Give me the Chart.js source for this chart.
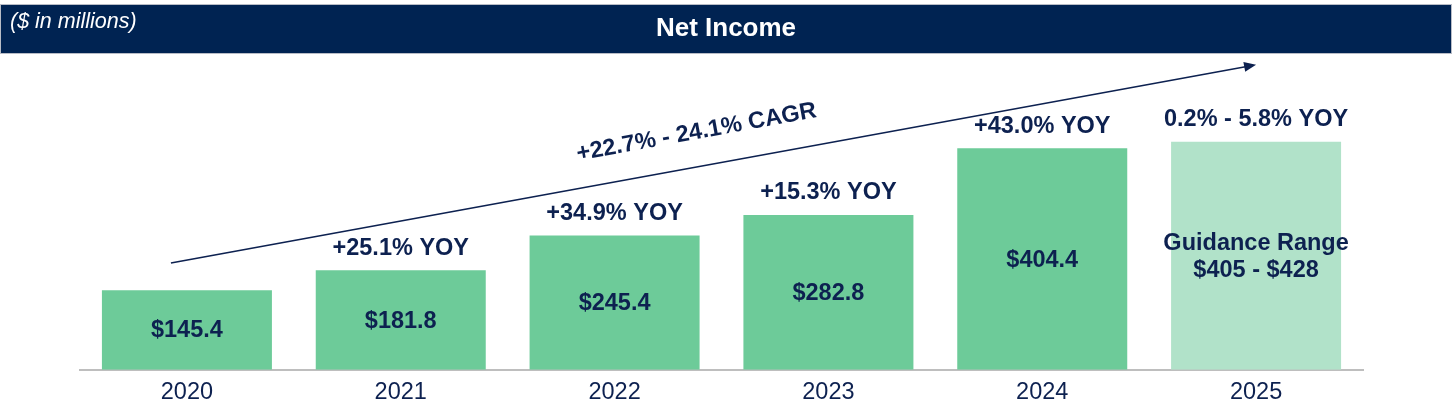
<!DOCTYPE html>
<html>
<head>
<meta charset="utf-8">
<script src="https://cdn.jsdelivr.net/npm/chart.js@4.4.1/dist/chart.umd.min.js"></script>
<style>
  html, body { margin: 0; padding: 0; background: #ffffff; overflow: hidden; }
  #wrap { position: relative; width: 1456px; height: 416px; }
</style>
</head>
<body>
<div id="wrap"><canvas id="c" width="1456" height="416"></canvas></div>
<script>
// ---- data ----
const years = ['2020', '2021', '2022', '2023', '2024', '2025'];
const netIncome = [145.4, 181.8, 245.4, 282.8, 404.4, 416.5];
const valueLabels = [['$145.4'], ['$181.8'], ['$245.4'], ['$282.8'], ['$404.4'], ['Guidance Range', '$405 - $428']];
const yoyLabels = ['', '+25.1% YOY', '+34.9% YOY', '+15.3% YOY', '+43.0% YOY', '0.2% - 5.8% YOY'];
const cagrLabel = '+22.7% - 24.1% CAGR';
const titleText = 'Net Income';
const unitNote = '($ in millions)';

// ---- styles ----
const FONT = '"Liberation Sans", Arial, Helvetica, sans-serif';
const NAVY = '#0D2150';
const HEADER = '#002352';
const barColors = years.map((y, i) => i < 5 ? '#6DCB99' : '#B1E2C9');

const annotPlugin = {
  id: 'annot',
  beforeDraw(chart) {
    const ctx = chart.ctx;
    ctx.save();
    ctx.fillStyle = '#ffffff';
    ctx.fillRect(0, 0, chart.width, chart.height);
    // header band
    ctx.fillStyle = HEADER;
    ctx.fillRect(1, 5, 1450, 48);
    ctx.strokeStyle = '#B8BCC6';
    ctx.lineWidth = 1;
    ctx.strokeRect(0.5, 4.5, 1451, 49);
    ctx.fillStyle = '#ffffff';
    ctx.textBaseline = 'middle';
    ctx.textAlign = 'center';
    ctx.font = 'bold 26px ' + FONT;
    ctx.fillText(titleText, 726, 29);
    ctx.textAlign = 'left';
    ctx.font = 'italic 21.5px ' + FONT;
    ctx.fillText(unitNote, 10, 22);
    ctx.restore();
  },
  afterDatasetsDraw(chart, args, opts) {
    const ctx = chart.ctx;
    const meta = chart.getDatasetMeta(0);
    const xs = chart.scales.x, ys = chart.scales.y;
    ctx.save();
    ctx.fillStyle = NAVY;
    ctx.textAlign = 'center';
    ctx.textBaseline = 'middle';
    meta.data.forEach((bar, i) => {
      const mid = (bar.y + bar.base) / 2;
      const lines = valueLabels[i];
      const lh = 27;
      const start = mid - (lines.length - 1) * lh / 2;
      ctx.font = (lines.length > 1 ? 'bold 23.5px ' : 'bold 23.5px ') + FONT;
      lines.forEach((t, k) => ctx.fillText(t, bar.x, start + k * lh + 1));
      if (yoyLabels[i]) {
        ctx.font = 'bold 23.5px ' + FONT;
        ctx.fillText(yoyLabels[i], bar.x, bar.y - 22);
      }
    });
    // CAGR arrow
    const a = opts.arrow;
    const x0 = xs.getPixelForValue(a.fromIndex) + a.fromOffset;
    const y0 = ys.getPixelForValue(a.fromValue);
    const x1 = xs.getPixelForValue(a.toIndex);
    const y1 = ys.getPixelForValue(a.toValue);
    const ang = Math.atan2(y1 - y0, x1 - x0);
    ctx.strokeStyle = NAVY;
    ctx.lineWidth = 1.6;
    ctx.beginPath();
    ctx.moveTo(x0, y0);
    ctx.lineTo(x1 - 8 * Math.cos(ang), y1 - 8 * Math.sin(ang));
    ctx.stroke();
    ctx.beginPath();
    ctx.moveTo(x1, y1);
    ctx.lineTo(x1 - 12 * Math.cos(ang) + 5 * Math.sin(ang), y1 - 12 * Math.sin(ang) - 5 * Math.cos(ang));
    ctx.lineTo(x1 - 12 * Math.cos(ang) - 5 * Math.sin(ang), y1 - 12 * Math.sin(ang) + 5 * Math.cos(ang));
    ctx.closePath();
    ctx.fill();
    // CAGR text
    const px = x0 + (x1 - x0) * a.textT;
    const py = y0 + (y1 - y0) * a.textT;
    const tx = px + a.textOffset * Math.sin(ang);
    const ty = py - a.textOffset * Math.cos(ang);
    ctx.translate(tx, ty);
    ctx.rotate(ang);
    ctx.font = 'bold 23.5px ' + FONT;
    ctx.fillText(cagrLabel, 0, 0);
    ctx.restore();
  }
};

new Chart(document.getElementById('c'), {
  type: 'bar',
  data: {
    labels: years,
    datasets: [{
      data: netIncome,
      backgroundColor: barColors,
      borderWidth: 0,
      categoryPercentage: 0.795,
      barPercentage: 1.0
    }]
  },
  options: {
    responsive: false,
    animation: false,
    devicePixelRatio: 1,
    layout: { padding: { left: 80, right: 93, top: 96, bottom: 0 } },
    plugins: {
      legend: { display: false },
      tooltip: { enabled: false },
      annot: {
        arrow: { fromIndex: 0, fromOffset: -16, fromValue: 195, toIndex: 5, toValue: 557, textT: 0.49, textOffset: 34 }
      }
    },
    scales: {
      x: {
        grid: { display: false, drawTicks: false },
        border: { display: true, color: '#BEBEBE', width: 2 },
        ticks: { color: NAVY, padding: 9, font: { family: FONT, size: 23.5 } }
      },
      y: { display: false, min: 0, max: 500 }
    }
  },
  plugins: [annotPlugin]
});
</script>
</body>
</html>
